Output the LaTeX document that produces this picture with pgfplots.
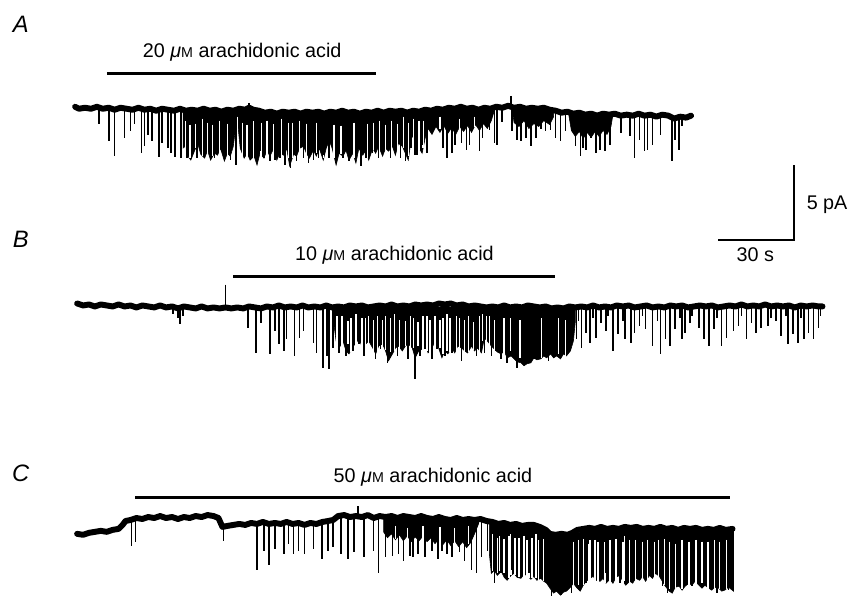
\documentclass[border=0pt]{standalone}
\usepackage{fontspec}
\setmainfont{Liberation Sans}
\usepackage{pgfplots}
\pgfplotsset{compat=1.18}
\usepackage{pgfplotstable}

\newcommand{\uM}{{\itshape μ}{\fontsize{7.2}{8}\selectfont M}}

% spikes: x, top, bottom (pixel units, y down)
\pgfplotstableread{
x t b
100 110 125
110 110 143
116 110 158
126 110 140
132 110 133
136 110 125
143 111 155
146 111 148
150 111 137
154 111 143
161 111 159
164 111 145
170 111 150
173 111 155
177 111 159
183 111 160
186 111 147
189 111 160
195 112 155
199 112 160
204 112 142
207 112 160
213 112 155
217 112 160
227 112 163
233 112 162
239 112 167
247 112 150
252 104 112
253 112 160
258 112 160
263 113 153
267 113 160
273 114 163
278 114 162
283 114 160
288 114 167
294 114 170
300 114 163
307 114 160
312 114 165
317 114 162
322 114 160
328 114 157
333 114 160
340 114 165
347 114 160
353 114 163
360 114 160
365 114 168
370 114 160
377 114 155
383 113 160
388 113 153
395 113 160
400 113 150
405 113 160
410 113 163
416 113 150
420 113 157
422 113 157
427 112 147
432 112 155
448 111 150
452 111 160
457 111 155
460 111 147
467 111 145
472 111 152
475 111 147
485 111 153
488 111 140
495 110 132
500 110 145
503 110 147
508 110 123
517 97 110
518 110 133
523 110 142
527 110 143
532 110 140
537 110 148
542 110 140
547 110 130
552 110 133
557 110 132
562 112 140
567 113 143
572 113 133
582 114 148
587 114 158
590 114 150
593 114 152
598 115 140
603 116 155
607 116 152
612 116 153
617 116 147
628 116 135
637 116 138
642 116 160
647 116 142
652 117 153
655 117 152
660 117 147
668 117 137
680 118 163
683 118 142
687 118 152
690 118 127
}\spikesA

% white gaps inside the dense part of A
\pgfplotstableread{
x t b
188 122 158
192 126 160
198 125 150
205 120 158
210 124 160
215 126 158
222 122 158
230 125 160
240 118 150
245 124 160
250 126 158
257 122 160
264 124 158
270 122 160
277 125 156
285 120 160
292 124 160
296 124 160
303 122 158
310 125 158
320 124 155
327 122 160
333 120 155
338 126 160
345 127 156
353 118 160
358 124 160
365 120 160
372 125 160
378 124 152
384 122 155
390 126 152
396 122 155
402 125 155
408 118 150
413 124 158
418 120 148
424 122 152
428 122 150
445 118 130
465 120 130
480 118 128
}\gapsA

\pgfplotstableread{
x t b
175 311 318
180 311 322
182 311 328
185 311 320
228 288 311
251 311 332
259 311 357
264 311 327
273 311 358
278 311 335
282 311 348
287 311 355
290 311 343
298 311 360
303 311 342
307 311 335
317 311 347
320 311 357
327 311 372
331 311 360
333 311 373
337 311 352
343 311 357
350 311 360
357 311 355
363 311 348
368 311 360
375 311 343
380 311 363
385 311 353
392 311 367
397 311 357
402 311 360
407 311 353
413 311 363
420 311 383
425 311 360
430 311 353
437 311 363
442 311 353
450 311 360
457 311 357
467 310 365
477 310 350
482 310 360
490 310 357
497 310 360
502 310 355
507 310 363
513 310 367
518 310 360
523 310 372
530 310 367
535 310 362
540 310 363
545 310 358
550 310 360
555 310 365
560 310 362
568 310 360
575 310 357
583 310 343
585 310 325
588 310 352
593 310 337
597 310 347
600 310 322
603 310 342
608 310 327
613 310 335
615 310 320
620 310 355
625 310 338
630 310 325
632 310 343
638 310 347
642 310 337
647 310 330
650 310 320
653 310 333
660 310 350
665 310 325
668 310 358
673 310 343
678 310 350
683 310 333
688 310 322
690 310 343
693 310 337
698 310 327
700 310 320
707 310 332
712 310 343
717 310 350
722 310 333
725 310 322
730 310 350
735 310 342
742 310 335
747 310 330
750 310 320
755 310 343
760 310 327
765 310 337
770 310 332
777 310 330
780 310 322
785 310 325
790 310 340
795 310 320
797 310 348
802 310 338
807 310 347
810 310 322
813 310 343
818 310 337
823 310 343
828 310 332
830 310 320
}\spikesB

\pgfplotstableread{
x t b
341 320 350
346 320 350
352 325 348
355 322 356
360 318 352
366 322 354
370 322 352
373 320 352
378 324 356
382 320 355
387 324 350
390 320 354
395 322 356
399 318 355
404 324 356
410 325 350
415 320 352
418 322 352
423 326 350
428 320 354
432 320 355
435 324 356
440 320 352
445 324 352
448 322 358
452 318 355
455 322 356
462 320 356
465 322 352
470 324 356
474 320 356
479 326 354
485 320 356
488 318 345
492 320 345
495 320 350
500 324 355
510 322 358
517 322 355
526 324 362
540 326 358
548 322 362
555 324 360
565 322 358
572 324 360
}\gapsB

\pgfplotstableread{
x t b
133 526 552
137 525 548
226 530 547
260 529 577
267 529 557
272 529 572
278 529 555
287 529 560
292 530 550
297 530 560
302 530 557
308 530 560
317 529 555
326 529 565
332 528 557
337 527 553
345 522 560
352 522 565
358 523 558
362 512 523
368 523 563
378 524 557
383 524 580
390 524 563
397 523 562
403 523 560
408 523 567
415 524 562
418 524 563
423 524 560
430 524 563
437 525 557
443 525 565
447 525 557
452 526 560
457 526 563
465 526 558
470 526 567
477 526 577
482 526 580
487 527 563
493 528 557
500 529 590
507 530 580
512 530 563
518 531 577
523 531 560
528 531 573
535 531 580
540 531 570
547 532 573
553 538 590
558 540 603
563 541 597
568 541 602
573 540 593
578 540 600
583 536 580
588 535 583
593 535 590
600 535 577
607 535 587
613 535 580
620 535 577
627 534 590
640 534 583
647 534 580
653 534 587
660 534 580
670 535 593
675 535 600
680 535 595
687 535 590
693 535 587
700 535 593
707 535 583
713 536 590
720 536 593
725 536 600
730 536 592
737 536 597
742 536 595
}\spikesC

\pgfplotstableread{
x t b
400 532 545
412 534 547
428 532 546
445 533 550
460 534 550
474 532 550
498 540 578
503 544 580
505 542 578
510 545 580
515 542 585
517 540 582
521 544 582
525 544 584
530 542 584
533 546 585
535 546 585
538 544 585
542 540 585
545 546 587
550 545 588
580 548 595
585 546 592
590 545 592
595 550 590
597 546 590
602 546 590
605 548 590
612 548 590
617 546 590
623 545 588
630 548 592
632 542 588
637 546 592
643 546 590
650 548 588
655 546 590
662 548 585
666 546 588
672 545 592
677 548 596
683 550 595
690 546 596
697 548 592
704 546 594
710 548 590
716 548 596
723 546 596
728 548 596
735 546 596
}\gapsC

\begin{document}
\begin{tikzpicture}
\begin{axis}[
  scale only axis,
  width=427pt, height=303pt,
  xmin=0, xmax=854, ymin=0, ymax=606,
  y dir=reverse,
  hide axis,
  clip=false,
  spikes/.style={draw=none, mark=none,
    error bars/.cd, y dir=plus, y explicit, error mark=none,
    error bar style={draw=black, line width=0.8pt}},
  gaps/.style={draw=none, mark=none,
    error bars/.cd, y dir=plus, y explicit, error mark=none,
    error bar style={draw=white, line width=0.7pt}},
  trace/.style={black, line width=3pt, line join=round, line cap=round},
  drug/.style={black, line width=1.6pt},
  mass/.style={black, fill=black, line width=0.3pt},
]
\addplot[draw=none] coordinates {(0,0)(854,606)};

% ---------- A ----------
\addplot[mass] coordinates {
  (185,150)(187,148)(190,158)(193,162)(197,152)(200,145)(203,156)(207,160)
  (210,152)(213,162)(217,155)(220,157)(223,150)(227,163)(230,155)(233,158)
  (236,148)(238,132)(241,130)(243,150)(247,160)(250,155)(253,162)(257,158)
  (260,167)(263,155)(267,160)(270,152)(273,158)(277,150)(280,162)(283,155)
  (287,157)(290,150)(293,168)(297,156)(300,158)(303,150)(307,148)(310,155)
  (313,160)(317,152)(320,158)(323,150)(327,162)(330,150)(333,142)(336,150)
  (340,167)(343,155)(347,158)(350,152)(353,162)(357,155)(360,165)(363,150)
  (367,157)(370,152)(373,162)(377,150)(380,155)(383,148)(387,158)(390,150)
  (393,153)(397,148)(400,157)(403,145)(407,148)(410,155)(413,162)(416,140)
  (420,135)(424,150)(427,155)(430,140)(433,130)(437,136)(441,128)(445,134)
  (449,127)(453,135)(457,129)(461,136)(465,128)(469,133)(473,127)(477,134)
  (481,126)(485,132)(489,125)(493,130)(497,122)(500,112)
  (460,110)(400,113)(300,114)(270,114)(250,111)(185,111)};
\addplot[mass] coordinates {
  (518,110)(520,124)(525,128)(530,122)(535,130)(540,125)(545,128)(550,122)
  (556,126)(560,118)(560,111)};
\addplot[mass] coordinates {
  (575,114)(578,132)(582,138)(586,133)(590,140)(594,134)(598,139)(602,133)
  (606,138)(610,132)(614,136)(618,128)(620,116)};
\addplot[gaps] table[x=x, y=t, y error expr=\thisrow{b}-\thisrow{t}] {\gapsA};
\addplot[spikes] table[x=x, y=t, y error expr=\thisrow{b}-\thisrow{t}] {\spikesA};
\addplot[trace] coordinates {
  (76,108)(80,110)(86,109)(92,110)(98,108)(104,110)(110,109)(116,111)
  (122,109)(128,110)(134,111)(140,109)(146,111)(152,110)(158,112)(164,110)
  (170,111)(176,112)(182,110)(188,112)(194,111)(200,112)(206,110)(212,112)
  (218,111)(224,113)(230,111)(236,112)(242,110)(248,111)(252,109)(256,111)
  (262,112)(268,114)(274,113)(280,115)(286,113)(292,114)(298,113)(304,115)
  (310,113)(316,114)(322,113)(328,115)(334,113)(340,114)(346,112)(352,114)
  (358,113)(364,115)(370,113)(376,114)(382,112)(388,114)(394,112)(400,113)
  (406,112)(412,114)(418,112)(424,113)(430,111)(436,112)(442,110)(448,111)
  (454,109)(460,110)(466,108)(472,110)(478,109)(484,111)(490,109)(496,110)
  (502,108)(508,109)(514,107)(520,109)(526,108)(532,110)(538,109)(544,110)
  (550,109)(556,111)(562,112)(568,114)(574,113)(580,115)(586,114)(592,116)
  (598,115)(604,117)(610,115)(616,116)(622,115)(628,117)(634,116)(640,117)
  (646,115)(652,117)(658,116)(664,118)(670,116)(676,117)(682,120)(688,118)
  (694,119)(699,117)};
\addplot[drug] coordinates {(108,74)(380,74)};
\node[font=\fontsize{10}{12}\selectfont] at (axis cs:245,53) {20 \uM\ arachidonic acid};
\node[font=\fontsize{12}{14}\selectfont\itshape] at (axis cs:21,25) {A};

% ---------- B ----------
\addplot[mass] coordinates {
  (338,311)(338,330)(340,345)(343,352)(347,345)(350,355)(353,358)(357,350)
  (360,348)(363,342)(367,353)(370,348)(373,345)(377,352)(380,358)(383,350)
  (387,348)(390,355)(393,365)(397,358)(400,352)(403,350)(407,355)(410,350)
  (413,348)(417,352)(420,362)(423,356)(427,353)(430,348)(433,357)(437,352)
  (440,345)(443,350)(447,362)(450,355)(453,358)(457,352)(460,357)(463,350)
  (467,352)(470,355)(473,357)(477,350)(480,355)(483,352)(487,357)(490,342)
  (493,345)(497,350)(500,353)(503,356)(507,358)(510,355)(513,362)(517,360)
  (520,363)(523,366)(527,367)(530,370)(533,368)(537,367)(540,362)(543,364)
  (547,363)(550,360)(553,362)(557,358)(560,362)(563,360)(567,363)(570,358)
  (573,360)(577,355)(580,345)(582,325)(582,310)};
\addplot[gaps] table[x=x, y=t, y error expr=\thisrow{b}-\thisrow{t}] {\gapsB};
\addplot[spikes] table[x=x, y=t, y error expr=\thisrow{b}-\thisrow{t}] {\spikesB};
\addplot[trace] coordinates {
  (78,307)(84,309)(90,308)(96,310)(102,308)(108,309)(114,310)(120,308)
  (126,310)(132,309)(138,311)(144,309)(150,310)(156,311)(162,309)(168,311)
  (174,310)(180,312)(186,310)(192,311)(198,312)(204,310)(210,312)(216,311)
  (222,312)(228,311)(234,312)(240,311)(246,312)(252,310)(258,311)(264,312)
  (270,310)(276,311)(282,309)(288,311)(294,310)(300,311)(306,309)(312,311)
  (318,310)(324,311)(330,309)(336,311)(342,310)(348,311)(354,309)(360,310)
  (366,309)(372,311)(378,310)(384,309)(390,310)(396,308)(402,310)(408,309)
  (414,310)(420,308)(426,309)(432,308)(438,309)(444,307)(450,308)(456,307)
  (462,309)(468,308)(474,310)(480,309)(486,310)(492,311)(498,310)(504,311)
  (510,309)(516,311)(522,310)(528,311)(534,309)(540,310)(546,311)(552,310)
  (558,312)(564,311)(570,312)(576,310)(582,311)(588,310)(594,311)(600,309)
  (606,311)(612,310)(618,311)(624,309)(630,310)(636,309)(642,311)(648,310)
  (654,309)(660,311)(666,310)(672,311)(678,309)(684,310)(690,309)(696,311)
  (702,310)(708,309)(714,310)(720,309)(726,311)(732,310)(738,309)(744,310)
  (750,308)(756,310)(762,309)(768,310)(774,308)(780,310)(786,309)(792,310)
  (798,309)(804,311)(810,309)(816,310)(822,309)(828,310)(832,310)};
\addplot[drug] coordinates {(236,280)(561,280)};
\node[font=\fontsize{10}{12}\selectfont] at (axis cs:399,258) {10 \uM\ arachidonic acid};
\node[font=\fontsize{12}{14}\selectfont\itshape] at (axis cs:21,242) {B};

% ---------- C ----------
\addplot[mass] coordinates {
  (388,524)(388,538)(392,544)(396,540)(400,546)(404,541)(408,547)(412,542)
  (416,548)(420,543)(424,547)(428,542)(432,548)(436,544)(440,550)(444,545)
  (448,551)(452,546)(456,552)(460,547)(464,553)(468,548)(472,554)(476,549)
  (480,540)(484,530)(484,526)};
\addplot[mass] coordinates {
  (495,528)(495,560)(497,580)(500,577)(503,582)(507,578)(510,584)(513,587)
  (517,582)(520,580)(523,584)(527,585)(530,581)(533,582)(537,586)(540,583)
  (543,587)(547,585)(550,588)(553,590)(557,596)(560,600)(563,598)(567,602)
  (570,599)(573,598)(577,594)(580,590)(583,594)(587,598)(590,592)(593,588)
  (597,585)(600,583)(603,587)(607,588)(610,585)(613,590)(617,586)(620,590)
  (623,584)(627,582)(630,588)(633,592)(637,588)(640,590)(643,585)(647,587)
  (650,583)(653,588)(657,582)(660,585)(663,580)(667,583)(670,588)(673,593)
  (677,598)(680,600)(683,594)(687,593)(690,597)(693,593)(697,590)(700,592)
  (703,588)(707,592)(710,595)(713,592)(717,595)(720,597)(723,594)(727,595)
  (730,598)(733,597)(737,594)(742,598)(742,536)(700,535)(600,535)(580,540)
  (555,540)(540,531)(505,530)};
\addplot[gaps] table[x=x, y=t, y error expr=\thisrow{b}-\thisrow{t}] {\gapsC};
\addplot[spikes] table[x=x, y=t, y error expr=\thisrow{b}-\thisrow{t}] {\spikesC};
\addplot[trace] coordinates {
  (78,540)(84,541)(90,539)(96,538)(102,537)(108,538)(114,536)(120,535)
  (124,531)(127,527)(132,526)(138,524)(144,525)(150,523)(156,524)(162,522)
  (168,524)(174,523)(180,525)(186,523)(192,524)(198,522)(204,523)(210,521)
  (216,522)(221,524)(225,533)(230,532)(236,531)(242,530)(248,531)(254,529)
  (260,530)(266,528)(272,530)(278,529)(284,530)(290,528)(296,530)(302,529)
  (308,531)(314,529)(320,530)(326,528)(332,527)(337,526)(342,522)(348,521)
  (354,523)(360,522)(366,523)(372,521)(378,524)(384,522)(390,523)(396,522)
  (402,524)(408,522)(414,523)(420,524)(426,522)(432,524)(438,525)(444,523)
  (450,525)(456,526)(462,524)(468,526)(474,525)(480,526)(486,525)(492,527)
  (498,528)(504,530)(510,529)(516,531)(522,530)(528,532)(534,531)(540,531)
  (546,533)(552,536)(556,540)(562,541)(568,540)(574,541)(579,539)(584,536)
  (590,535)(596,534)(602,535)(608,533)(614,535)(620,534)(626,535)(632,533)
  (638,534)(644,533)(650,535)(656,534)(662,535)(668,533)(674,535)(680,534)
  (686,536)(692,534)(698,535)(704,534)(710,536)(716,535)(722,536)(728,534)
  (734,536)(741,535)};
\addplot[drug] coordinates {(137,503)(738,503)};
\node[font=\fontsize{10}{12}\selectfont] at (axis cs:438,483) {50 \uM\ arachidonic acid};
\node[font=\fontsize{12}{14}\selectfont\itshape] at (axis cs:21,479) {C};

% ---------- scale bar ----------
\addplot[black, line width=0.8pt] coordinates {(803,167)(803,243)(726,243)};
\node[font=\fontsize{10}{12}\selectfont, anchor=west] at (axis cs:809,207) {5 pA};
\node[font=\fontsize{10}{12}\selectfont] at (axis cs:764,258) {30 s};
\end{axis}
\end{tikzpicture}
\end{document}
